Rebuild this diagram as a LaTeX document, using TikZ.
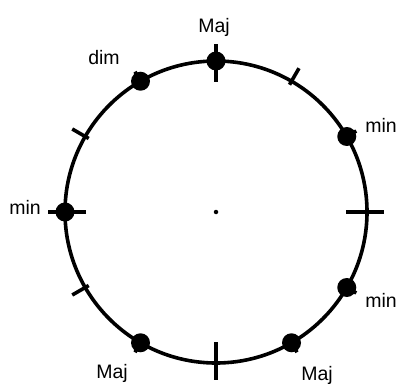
\documentclass[tikz,border=0pt]{standalone}
\usepackage{fontspec}
\setmainfont{Liberation Sans}
\usetikzlibrary{calc}
\begin{document}
\begin{tikzpicture}[x=1pt,y=1pt,
  ring/.style={line width=3.6pt},
  tickline/.style={line width=3.6pt},
  chorddot/.style={circle,fill=black,inner sep=0pt,minimum size=19pt},
  lbl/.style={anchor=base,font=\fontsize{19.5}{22}\selectfont,inner sep=0pt}]
\useasboundingbox (0,0) rectangle (398,383);
\coordinate (O) at (216,171);
% circle
\draw[ring] (O) circle[radius=151];
% minor ticks
\foreach \a in {60,150,210}
  \draw[tickline] ($(O)+(\a:147)$) -- ($(O)+(\a:166)$);
% stubs under the dots
\foreach \a in {30,120,240,300,330}
  \draw[tickline] ($(O)+(\a:150)$) -- ($(O)+(\a:162)$);
% major ticks
\foreach \a in {0,90,180,270}
  \draw[tickline] ($(O)+(\a:130)$) -- ($(O)+(\a:168)$);
% centre
\node[circle,fill=black,inner sep=0pt,minimum size=4.5pt] (ctr) at (O) {};
% dots
\node[chorddot] (d90)  at ($(O)+(90:151)$) {};
\node[chorddot] (d30)  at ($(O)+(30:151)$) {};
\node[chorddot] (d120) at ($(O)+(120:151)$) {};
\node[chorddot] (d180) at ($(O)+(180:151)$) {};
\node[chorddot] (d240) at ($(O)+(240:151)$) {};
\node[chorddot] (d300) at ($(O)+(300:151)$) {};
\node[chorddot] (d330) at ($(O)+(330:151)$) {};
% labels
\node[lbl] (l90)  at (214,350) {Maj};
\node[lbl] (l120) at (104,318) {dim};
\node[lbl] (l30)  at (381,250) {min};
\node[lbl] (l180) at (25,168) {min};
\node[lbl] (l330) at (381,76) {min};
\node[lbl] (l240) at (112,5) {Maj};
\node[lbl] (l300) at (317,3) {Maj};
\end{tikzpicture}
\end{document}
